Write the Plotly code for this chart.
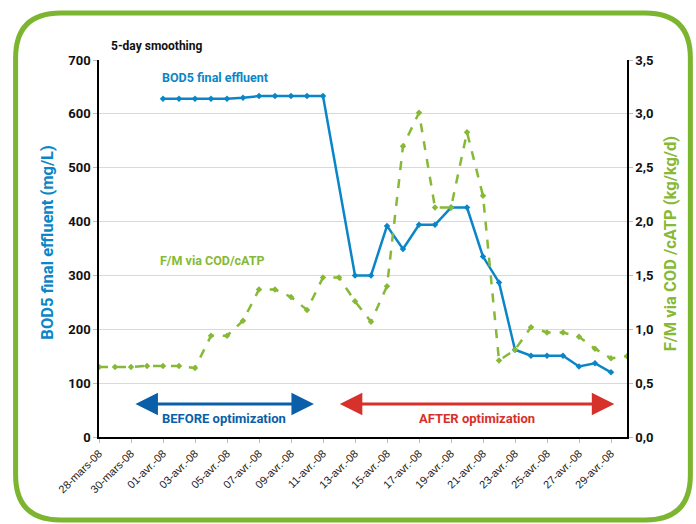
import plotly.graph_objects as go
import pandas as pd

# ---- data ----
dates = pd.date_range("2008-03-28", "2008-04-30", freq="D").strftime("%Y-%m-%d").tolist()

bod5 = [None, None, None, None,
        628, 628, 628, 628, 628, 630, 633, 633, 633, 633, 633,
        None,
        300, 300, 392, 349, 394, 394, 426, 426, 335, 287, 162,
        151, 151, 151, 131, 137, 120, None]

fm = [0.65, 0.65, 0.65, 0.66, 0.66, 0.66, 0.64, 0.94, 0.94, 1.08,
      1.37, 1.37, 1.30, 1.18, 1.48, 1.48, 1.26, 1.07, 1.40, 2.70,
      3.01, 2.13, 2.13, 2.83, 2.24, 0.71, 0.81, 1.02, 0.97, 0.97,
      0.93, 0.82, 0.73, 0.75]

tick_dates = dates[::2]
tick_labels = ["28-mars-08", "30-mars-08", "01-avr.-08", "03-avr.-08", "05-avr.-08",
               "07-avr.-08", "09-avr.-08", "11-avr.-08", "13-avr.-08", "15-avr.-08",
               "17-avr.-08", "19-avr.-08", "21-avr.-08", "23-avr.-08", "25-avr.-08",
               "27-avr.-08", "29-avr.-08"]

BLUE = "#0a86c8"
GREEN = "#86b935"
BORDER = "#7cb52f"
DARKBLUE = "#0b5ea8"
RED = "#d6312b"

W, H = 696, 524
L, R, T, B = 99.3, 626.7, 60, 437

def px(x):
    return (x - L) / (R - L)

def py(y):
    return (B - y) / (B - T)

fig = go.Figure()
fig.add_trace(go.Scatter(x=dates, y=bod5, mode="lines+markers", connectgaps=True,
                         line=dict(color=BLUE, width=2.5),
                         marker=dict(symbol="diamond", size=5, color=BLUE),
                         yaxis="y", showlegend=False))
fig.add_trace(go.Scatter(x=dates, y=fm, mode="lines+markers",
                         line=dict(color=GREEN, width=2.5, dash="dash"),
                         marker=dict(symbol="diamond", size=5, color=GREEN),
                         yaxis="y2", showlegend=False))

tickfont_y = dict(family="Roboto", size=13, color="#111111", weight="bold")

fig.update_layout(
    width=W, height=H,
    margin=dict(l=L, r=W - R, t=T, b=H - B),
    paper_bgcolor="white", plot_bgcolor="white",
    separators=", ",
    xaxis=dict(type="date", range=[dates[0], dates[-1]],
               tickvals=tick_dates, ticktext=tick_labels, tickangle=-45,
               tickfont=dict(family="Liberation Sans", size=11, color="#222222"),
               showgrid=False, showline=True, linecolor="black", linewidth=1.5,
               ticks="outside", ticklen=4, tickcolor="#bbbbbb", zeroline=False),
    yaxis=dict(range=[0, 700], dtick=100, showgrid=True, gridcolor="#d9d9d9", gridwidth=1,
               showline=True, linecolor="black", linewidth=1.5,
               ticks="outside", ticklen=4, tickcolor="#bbbbbb",
               tickfont=tickfont_y, zeroline=False),
    yaxis2=dict(range=[0, 3.5], dtick=0.5, tickformat=".1f", overlaying="y", side="right",
                showgrid=False, showline=True, linecolor="black", linewidth=1.5,
                ticks="outside", ticklen=4, tickcolor="#bbbbbb",
                tickfont=tickfont_y, zeroline=False),
)

ann = []
ann.append(dict(text="5-day smoothing", x=px(109), y=py(46), xref="paper", yref="paper",
                xanchor="left", yanchor="middle", showarrow=False,
                font=dict(family="Roboto", size=12, color="#111111", weight="bold")))
ann.append(dict(text="BOD5 final effluent", x=px(160), y=py(78), xref="paper", yref="paper",
                xanchor="left", yanchor="middle", showarrow=False,
                font=dict(family="Roboto", size=12.5, color=BLUE, weight="bold")))
ann.append(dict(text="F/M via COD/cATP", x=px(158), y=py(260), xref="paper", yref="paper",
                xanchor="left", yanchor="middle", showarrow=False,
                font=dict(family="Roboto", size=12.5, color=GREEN, weight="bold")))
ann.append(dict(text="BOD5 final effluent (mg/L)", x=px(47), y=py(243), xref="paper", yref="paper",
                textangle=-90, xanchor="center", yanchor="middle", showarrow=False,
                font=dict(family="Roboto", size=16.5, color=BLUE, weight="bold")))
ann.append(dict(text="F/M via COD /cATP (kg/kg/d)", x=px(671), y=py(244), xref="paper", yref="paper",
                textangle=-90, xanchor="center", yanchor="middle", showarrow=False,
                font=dict(family="Roboto", size=16.5, color=GREEN, weight="bold")))
# arrows
for x0, x1, col in [(134, 314, DARKBLUE), (338, 614, RED)]:
    ann.append(dict(text="", x=px(x1), y=py(404), xref="paper", yref="paper",
                    ax=-(x1 - x0), ay=0, showarrow=True, arrowside="end+start",
                    arrowhead=2, arrowsize=1.5, arrowwidth=3, arrowcolor=col))
ann.append(dict(text="BEFORE optimization", x=px(224), y=py(418), xref="paper", yref="paper",
                xanchor="center", yanchor="middle", showarrow=False,
                font=dict(family="Roboto", size=13, color=DARKBLUE, weight="bold")))
ann.append(dict(text="AFTER optimization", x=px(477), y=py(418), xref="paper", yref="paper",
                xanchor="center", yanchor="middle", showarrow=False,
                font=dict(family="Roboto", size=13, color=RED, weight="bold")))
fig.update_layout(annotations=ann)

# rounded green border
x0, x1, y0, y1, r = 16, 690, 13, 520, 45
pts = [("M", x0 + r, y0), ("L", x1 - r, y0), ("Q", x1, y0, x1, y0 + r), ("L", x1, y1 - r),
       ("Q", x1, y1, x1 - r, y1), ("L", x0 + r, y1), ("Q", x0, y1, x0, y1 - r),
       ("L", x0, y0 + r), ("Q", x0, y0, x0 + r, y0)]
path = ""
for p in pts:
    cmd = p[0]
    coords = p[1:]
    s = []
    for i in range(0, len(coords), 2):
        s.append(f"{px(coords[i]):.5f},{py(coords[i+1]):.5f}")
    path += cmd + " " + " ".join(s) + " "
path += "Z"
fig.add_shape(type="path", path=path, xref="paper", yref="paper",
              line=dict(color=BORDER, width=5), layer="below")

fig.write_html("out.html", config={"displayModeBar": False},
               post_script="document.body.style.margin='0';document.body.style.overflow='hidden';")
